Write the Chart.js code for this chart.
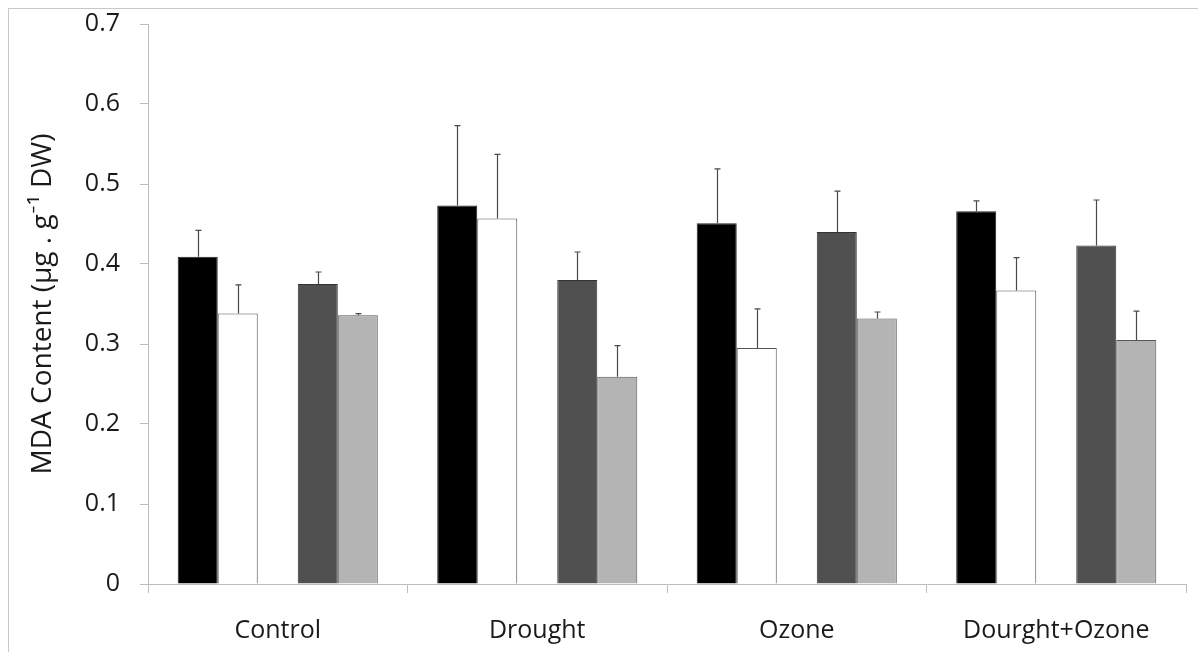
<!DOCTYPE html>
<html>
<head>
<meta charset="utf-8">
<script src="https://cdn.jsdelivr.net/npm/chart.js@4.4.1/dist/chart.umd.min.js"></script>
<style>
  html, body { margin: 0; padding: 0; background: #fff; overflow: hidden; }
  #frame { position: absolute; left: 8px; top: 8px; width: 1300px; height: 800px; border: 1px solid #c8c8c8; }
  #wrap { position: absolute; left: 0; top: 0; width: 1198px; height: 652px; }
</style>
</head>
<body>
<div id="frame"></div>
<div id="wrap"><canvas id="c" width="1198" height="652"></canvas></div>
<script>
const categories = ["Control", "Drought", "Ozone", "Dourght+Ozone"];
const series1 = [0.409, 0.473, 0.451, 0.466];
const series2 = [0.338, 0.457, 0.295, 0.367];
const series3 = [0.375, 0.380, 0.440, 0.423];
const series4 = [0.336, 0.259, 0.332, 0.305];
const err1 = [0.033, 0.100, 0.068, 0.013];
const err2 = [0.036, 0.080, 0.049, 0.041];
const err3 = [0.015, 0.035, 0.051, 0.057];
const err4 = [0.002, 0.039, 0.008, 0.036];
const yTicks = [0, 0.1, 0.2, 0.3, 0.4, 0.5, 0.6, 0.7];

const FONT = "'Open Sans', Lato, sans-serif";

const errorBars = {
  id: 'errorBars',
  afterDatasetsDraw(chart) {
    const ctx = chart.ctx;
    const y = chart.scales.y;
    chart.data.datasets.forEach((ds, di) => {
      if (!ds.err) return;
      const meta = chart.getDatasetMeta(di);
      meta.data.forEach((bar, i) => {
        const v = ds.data[i];
        if (v == null) return;
        const yTop = y.getPixelForValue(v + ds.err[i]);
        const yBase = y.getPixelForValue(v);
        const x = Math.round(bar.x) + 0.5;
        ctx.save();
        ctx.strokeStyle = '#4a4a4a';
        ctx.lineWidth = 1.2;
        ctx.beginPath();
        ctx.moveTo(x, yBase);
        ctx.lineTo(x, yTop);
        ctx.moveTo(x - 3, yTop);
        ctx.lineTo(x + 3, yTop);
        ctx.stroke();
        ctx.restore();
      });
    });
  }
};

new Chart(document.getElementById('c'), {
  type: 'bar',
  data: {
    labels: categories,
    datasets: [
      { data: series1, err: err1, backgroundColor: '#000000', borderColor: '#222222', borderWidth: 1 },
      { data: series2, err: err2, backgroundColor: '#ffffff', borderColor: '#555555', borderWidth: 1 },
      { data: [null, null, null, null], backgroundColor: 'rgba(0,0,0,0)', borderWidth: 0 },
      { data: series3, err: err3, backgroundColor: '#505050', borderColor: '#333333', borderWidth: 1 },
      { data: series4, err: err4, backgroundColor: '#b4b4b4', borderColor: '#555555', borderWidth: 1 }
    ]
  },
  options: {
    responsive: false,
    animation: false,
    devicePixelRatio: 1,
    layout: { padding: { top: 24, right: 12, left: 0, bottom: 0 } },
    datasets: { bar: { categoryPercentage: 0.771, barPercentage: 1.0 } },
    plugins: { legend: { display: false }, tooltip: { enabled: false } },
    scales: {
      x: {
        offset: true,
        grid: { offset: true, drawOnChartArea: false, drawTicks: true, tickLength: 9, color: '#bdbdbd', lineWidth: 1 },
        border: { color: '#bdbdbd', width: 1 },
        ticks: { color: '#1a1a1a', font: { family: FONT, size: 25 }, padding: 23, maxRotation: 0 },
        afterFit(scale) { scale.height = 68; }
      },
      y: {
        min: 0, max: 0.7,
        afterBuildTicks(scale) { scale.ticks = yTicks.map(v => ({ value: v })); },
        grid: { drawOnChartArea: false, drawTicks: true, tickLength: 8, color: '#bdbdbd', lineWidth: 1 },
        border: { color: '#bdbdbd', width: 1 },
        ticks: {
          color: '#1a1a1a', font: { family: FONT, size: 25, lineHeight: 1.0 }, padding: 20,
          callback: (v) => (v === 0 ? '0' : v.toFixed(1))
        },
        title: {
          display: true,
          text: 'MDA Content (µg . g⁻¹ DW)',
          color: '#1a1a1a',
          font: { family: FONT, size: 28 },
          padding: { top: 26, bottom: 0 }
        },
        afterFit(scale) { scale.width = 148; scale.paddingTop = 0; scale.paddingBottom = 0; }
      }
    }
  },
  plugins: [errorBars]
});
</script>
</body>
</html>
